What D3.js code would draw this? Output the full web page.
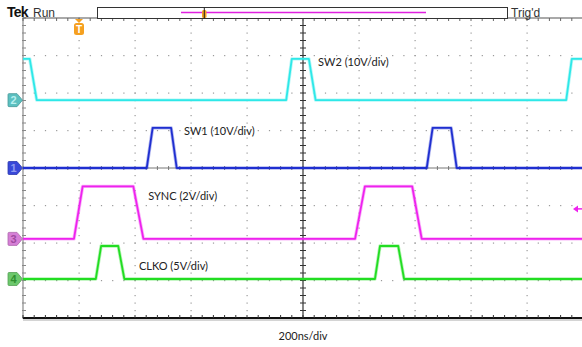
<!DOCTYPE html>
<html><head><meta charset="utf-8">
<script src="https://cdn.jsdelivr.net/npm/d3@7"></script>
<style>body{margin:0;background:#fff}svg{display:block}</style>
</head><body>
<svg id="c" width="582" height="347"></svg>
<script>
// ---- data (time in ns, value in volts) ----
const ch1Times = [-1000, -558, -537, -471, -451, 442, 463, 529, 549, 1000];
const ch1Volts = [0, 0, 10.7, 10.7, 0, 0, 10.7, 10.7, 0, 0];
const ch2Times = [-1000, -976, -951, -60, -40, 21, 45, 940, 960, 1000];
const ch2Volts = [11, 11, 0, 0, 11, 11, 0, 0, 11, 11];
const ch3Times = [-1000, -818, -787, -606, -570, 186, 221, 390, 424, 1000];
const ch3Volts = [0, 0, 2.8, 2.8, 0, 0, 2.8, 2.8, 0, 0];
const ch4Times = [-1000, -740, -721, -660, -638, 257, 275, 340, 361, 1000];
const ch4Volts = [0, 0, 4.4, 4.4, 0, 0, 4.4, 4.4, 0, 0];
const channelNames = ["1", "2", "3", "4"];
const channelLabels = ["SW1 (10V/div)", "SW2 (10V/div)", "SYNC (2V/div)", "CLKO (5V/div)"];
const voltsPerDiv = [10, 10, 2, 5];
const channelOffsets = [0, 1.81, -1.89, -2.96]; // divisions
const timeTicks = d3.range(-1000, 1001, 200);
const divTicks = d3.range(-4, 5, 1);
const timebaseLabel = "200ns/div";
const triggerTime = -800;

const colors = ["#1f2fd0", "#2ee8e8", "#ee22ee", "#22dd22"];
const markerFill = ["#3848d8", "#5cc0c0", "#d67fd6", "#6cc86c"];
const markerText = ["#8f9af0", "#b8f0f0", "#a04aa0", "#2f8f2f"];

const svg = d3.select("#c");
const x = d3.scaleLinear().domain([-1000, 1000]).range([23, 583]);
const y = d3.scaleLinear().domain([-4, 4]).range([318, 18]);
const minorT = d3.range(-1000, 1001, 40);
const minorD = d3.range(-20, 21).map(v => v / 5);

const g = svg.append("g");
// dotted division grid
divTicks.filter(d => d !== 0 && d !== 4 && d !== -4).forEach(d => {
  g.append("g").selectAll("rect").data(minorT).join("rect")
    .attr("x", t => x(t) - 0.5).attr("y", y(d) - 0.5).attr("width", 1.2).attr("height", 1.2)
    .attr("fill", "#9a9a9a");
});
timeTicks.filter(t => t !== 0 && t !== -1000 && t !== 1000).forEach(t => {
  g.append("g").selectAll("rect").data(minorD).join("rect")
    .attr("x", x(t) - 0.5).attr("y", d => y(d) - 0.5).attr("width", 1.2).attr("height", 1.2)
    .attr("fill", "#9a9a9a");
});
// center horizontal
g.append("line").attr("x1", x(-1000)).attr("x2", x(1000)).attr("y1", y(0)).attr("y2", y(0))
  .attr("stroke", "#777").attr("stroke-width", 1);
g.append("g").selectAll("line").data(minorT).join("line")
  .attr("x1", t => x(t)).attr("x2", t => x(t)).attr("y1", y(0) - 2).attr("y2", y(0) + 2)
  .attr("stroke", "#777");
// center vertical
g.append("line").attr("x1", x(0)).attr("x2", x(0)).attr("y1", y(4)).attr("y2", y(-4))
  .attr("stroke", "#333").attr("stroke-width", 1.2);
g.append("g").selectAll("line").data(minorD).join("line")
  .attr("x1", x(0) - 3).attr("x2", x(0) + 3).attr("y1", d => y(d)).attr("y2", d => y(d))
  .attr("stroke", "#333");
// left border
g.append("line").attr("x1", x(-1000)).attr("x2", x(-1000)).attr("y1", y(4)).attr("y2", y(-4))
  .attr("stroke", "#888").attr("stroke-width", 1.2);
g.append("g").selectAll("line").data(minorD).join("line")
  .attr("x1", x(-1000) - 1).attr("x2", x(-1000) + 3).attr("y1", d => y(d)).attr("y2", d => y(d))
  .attr("stroke", "#888");
// top border
g.append("line").attr("x1", x(-1000)).attr("x2", x(1000)).attr("y1", y(4)).attr("y2", y(4))
  .attr("stroke", "#555").attr("stroke-width", 1.2);
g.append("g").selectAll("line").data(minorT).join("line")
  .attr("x1", t => x(t)).attr("x2", t => x(t)).attr("y1", y(4)).attr("y2", y(4) + 3)
  .attr("stroke", "#666");
// bottom border
g.append("line").attr("x1", x(-1000)).attr("x2", x(1000)).attr("y1", y(-4)).attr("y2", y(-4))
  .attr("stroke", "#111").attr("stroke-width", 2);
g.append("line").attr("x1", x(-1000)).attr("x2", x(1000)).attr("y1", y(-4) + 2).attr("y2", y(-4) + 2)
  .attr("stroke", "#aaa").attr("stroke-width", 1);
g.append("g").selectAll("line").data(minorT).join("line")
  .attr("x1", t => x(t)).attr("x2", t => x(t)).attr("y1", y(-4) - 3).attr("y2", y(-4))
  .attr("stroke", "#333");

// traces
const series = [
  [ch1Times, ch1Volts], [ch2Times, ch2Volts], [ch3Times, ch3Volts], [ch4Times, ch4Volts]
];
const line = d3.line().x(d => x(d[0])).y(d => y(d[1]));
const order = [1, 0, 2, 3];
order.forEach(i => {
  const pts = series[i][0].map((t, k) => [t, channelOffsets[i] + series[i][1][k] / voltsPerDiv[i]]);
  svg.append("path").datum(pts).attr("d", line).attr("fill", "none")
    .attr("stroke", colors[i]).attr("stroke-width", 3.4).attr("stroke-opacity", 0.35)
    .attr("stroke-linejoin", "round");
  svg.append("path").datum(pts).attr("d", line).attr("fill", "none")
    .attr("stroke", colors[i]).attr("stroke-width", 1.8).attr("stroke-linejoin", "round");
});

// channel markers
order.forEach(i => {
  const cy = y(channelOffsets[i]);
  const gm = svg.append("g");
  gm.append("path")
    .attr("d", `M9,${cy - 6.5} H17 L22.5,${cy} L17,${cy + 6.5} H9 Q8,${cy + 6.5} 8,${cy + 5.5} V${cy - 5.5} Q8,${cy - 6.5} 9,${cy - 6.5} Z`)
    .attr("fill", markerFill[i]).attr("stroke", d3.color(markerFill[i]).darker(0.6)).attr("stroke-width", 0.8);
  gm.append("text").attr("x", 13.5).attr("y", cy + 4).attr("text-anchor", "middle")
    .attr("font-family", "Liberation Sans, Arial, sans-serif").attr("font-size", 11).attr("font-weight", "bold")
    .attr("fill", markerText[i]).text(channelNames[i]);
});

// channel labels
const labelPos = [[-425, 0.87], [54, 2.72], [-553, -0.85], [-586, -2.72]];
channelLabels.forEach((s, i) => {
  svg.append("text").attr("x", x(labelPos[i][0])).attr("y", y(labelPos[i][1]))
    .attr("font-family", "Lato, 'Open Sans', sans-serif").attr("font-size", 11)
    .attr("fill", "#222").text(s);
});

// trigger level arrow (right)
const trigY = y(channelOffsets[2] + 1.6 / voltsPerDiv[2]);
svg.append("path").attr("d", `M573,${trigY} L578,${trigY - 3.5} L578,${trigY + 3.5} Z`).attr("fill", colors[2]);
svg.append("line").attr("x1", 577).attr("x2", 582).attr("y1", trigY).attr("y2", trigY)
  .attr("stroke", colors[2]).attr("stroke-width", 1.5);

// trigger position marker "T"
const tx = x(triggerTime);
svg.append("path").attr("d", `M${tx - 4},19 L${tx + 4},19 L${tx},23 Z`).attr("fill", "#f5a020");
svg.append("rect").attr("x", tx - 5).attr("y", 23).attr("width", 10).attr("height", 12).attr("rx", 2.5)
  .attr("fill", "#f5a020");
svg.append("text").attr("x", tx).attr("y", 33).attr("text-anchor", "middle")
  .attr("font-family", "Liberation Sans, Arial, sans-serif").attr("font-size", 10).attr("font-weight", "bold")
  .attr("fill", "#fff").text("T");

// header
svg.append("text").attr("x", 7).attr("y", 17).attr("font-family", "Liberation Sans, Arial, sans-serif")
  .attr("font-size", 14).attr("font-weight", "bold").attr("letter-spacing", -0.8).attr("fill", "#111").text("Tek");
svg.append("text").attr("x", 33).attr("y", 16.5).attr("font-family", "'Liberation Sans Narrow', 'Liberation Sans', sans-serif")
  .attr("font-size", 12).attr("fill", "#333").text("Run");
svg.append("rect").attr("x", 97.5).attr("y", 7.5).attr("width", 410).attr("height", 11)
  .attr("fill", "#fff").attr("stroke", "#333").attr("stroke-width", 1);
svg.append("line").attr("x1", 181).attr("x2", 426).attr("y1", 12.5).attr("y2", 12.5)
  .attr("stroke", "#e020e0").attr("stroke-width", 1.3);
svg.append("rect").attr("x", 202).attr("y", 10).attr("width", 4.5).attr("height", 8).attr("rx", 1.5).attr("fill", "#f5a020");
svg.append("line").attr("x1", 204.3).attr("x2", 204.3).attr("y1", 7.5).attr("y2", 18.5).attr("stroke", "#222").attr("stroke-width", 1);
svg.append("text").attr("x", 511).attr("y", 17).attr("font-family", "'Liberation Sans Narrow', 'Liberation Sans', sans-serif")
  .attr("font-size", 12).attr("fill", "#333").text("Trig'd");

// timebase
svg.append("text").attr("x", x(0)).attr("y", 340).attr("text-anchor", "middle")
  .attr("font-family", "Lato, 'Open Sans', sans-serif").attr("font-size", 11).attr("fill", "#222").text(timebaseLabel);
</script>
</body></html>
